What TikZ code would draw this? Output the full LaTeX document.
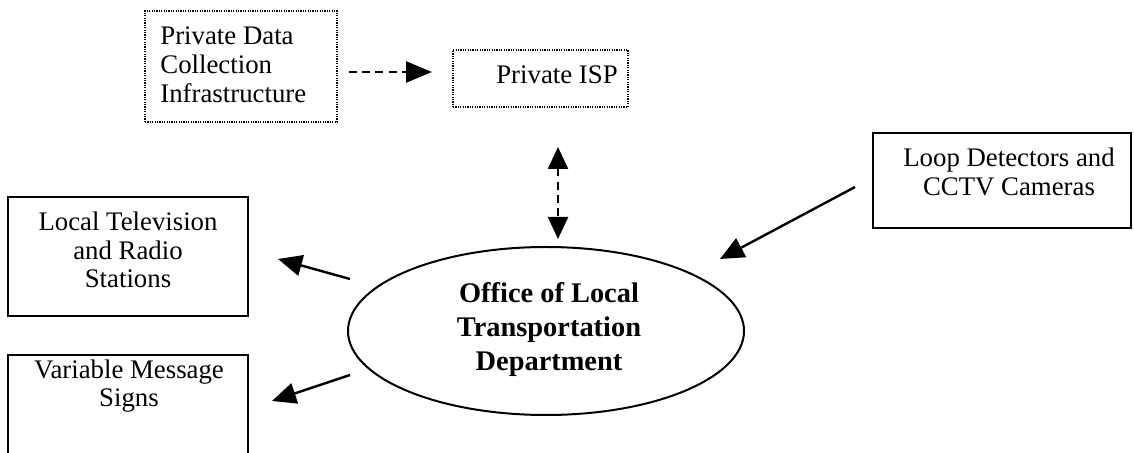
\documentclass[tikz,border=0pt]{standalone}
\usepackage{fontspec}
\setmainfont{Liberation Serif}
\usetikzlibrary{shapes.geometric,arrows.meta}
\tikzset{
  solidbox/.style={draw, line width=1pt, rectangle, inner sep=0pt},
  dotbox/.style={draw, line width=1pt, dash pattern=on 0.6pt off 0.6pt, rectangle, inner sep=0pt},
  txt/.style={inner sep=0pt, font=\fontsize{13.4}{14.4}\selectfont},
  boldtxt/.style={inner sep=0pt, align=center, font=\fontsize{14.2}{17}\selectfont\bfseries},
  tip/.style={Triangle[length=12pt,width=10.5pt]},
  conn/.style={line width=1.2pt, -{Triangle[length=12pt,width=10.5pt]}},
  dconn/.style={line width=1.2pt, dash pattern=on 4pt off 2.6pt, -{Triangle[length=13pt,width=10.5pt]}},
  ddconn/.style={line width=1.2pt, dash pattern=on 4pt off 2.6pt, {Triangle[length=11pt,width=10pt]}-{Triangle[length=11pt,width=10pt]}}
}
\begin{document}
\begin{tikzpicture}[x=0.5pt,y=-0.5pt]
\useasboundingbox (0,0) rectangle (1134,453);
\clip (0,0) rectangle (1134,453);
% boxes
\node[dotbox, minimum width=96pt, minimum height=55.5pt] (pdcbox) at (241,66.5) {};
\node[dotbox, minimum width=87.5pt, minimum height=28.5pt] (ispbox) at (540.5,78.5) {};
\node[solidbox, minimum width=129pt, minimum height=47.5pt] (loopbox) at (1002,180.5) {};
\node[solidbox, minimum width=120pt, minimum height=59.5pt] (ltvbox) at (128,256.5) {};
\node[solidbox, minimum width=120pt, minimum height=57.5pt] (vmsbox) at (128,412.5) {};
\node[draw, ellipse, line width=1pt, inner sep=0pt, minimum width=198pt, minimum height=84pt] (office) at (546,331) {};
% texts
\node[txt, align=left, anchor=west] (pdctext) at (160,65) {Private Data\\Collection\\Infrastructure};
\node[txt] (isptext) at (557,75) {Private ISP};
\node[txt, align=center] (looptext) at (1009,172) {Loop Detectors and\\CCTV Cameras};
\node[txt, align=center] (ltvtext) at (128,250) {Local Television\\and Radio\\Stations};
\node[txt, align=center] (vmstext) at (129,386) {Variable Message\\Signs};
\node[boldtxt] (officetext) at (549,330) {Office of Local\\Transportation\\Department};
% connector end points
\coordinate (a1s) at (349,72);
\coordinate (a1e) at (432,72);
\coordinate (a2s) at (558,147);
\coordinate (a2e) at (558,239);
\coordinate (a3s) at (855,187);
\coordinate (a3e) at (720,259);
\coordinate (a4s) at (350,279);
\coordinate (a4e) at (278,259);
\coordinate (a5s) at (350,375);
\coordinate (a5e) at (272,401);
% connectors
\draw[dconn] (a1s) -- (a1e);
\draw[ddconn] (a2s) -- (a2e);
\draw[conn] (a3s) -- (a3e);
\draw[conn] (a4s) -- (a4e);
\draw[conn] (a5s) -- (a5e);
\end{tikzpicture}
\end{document}
